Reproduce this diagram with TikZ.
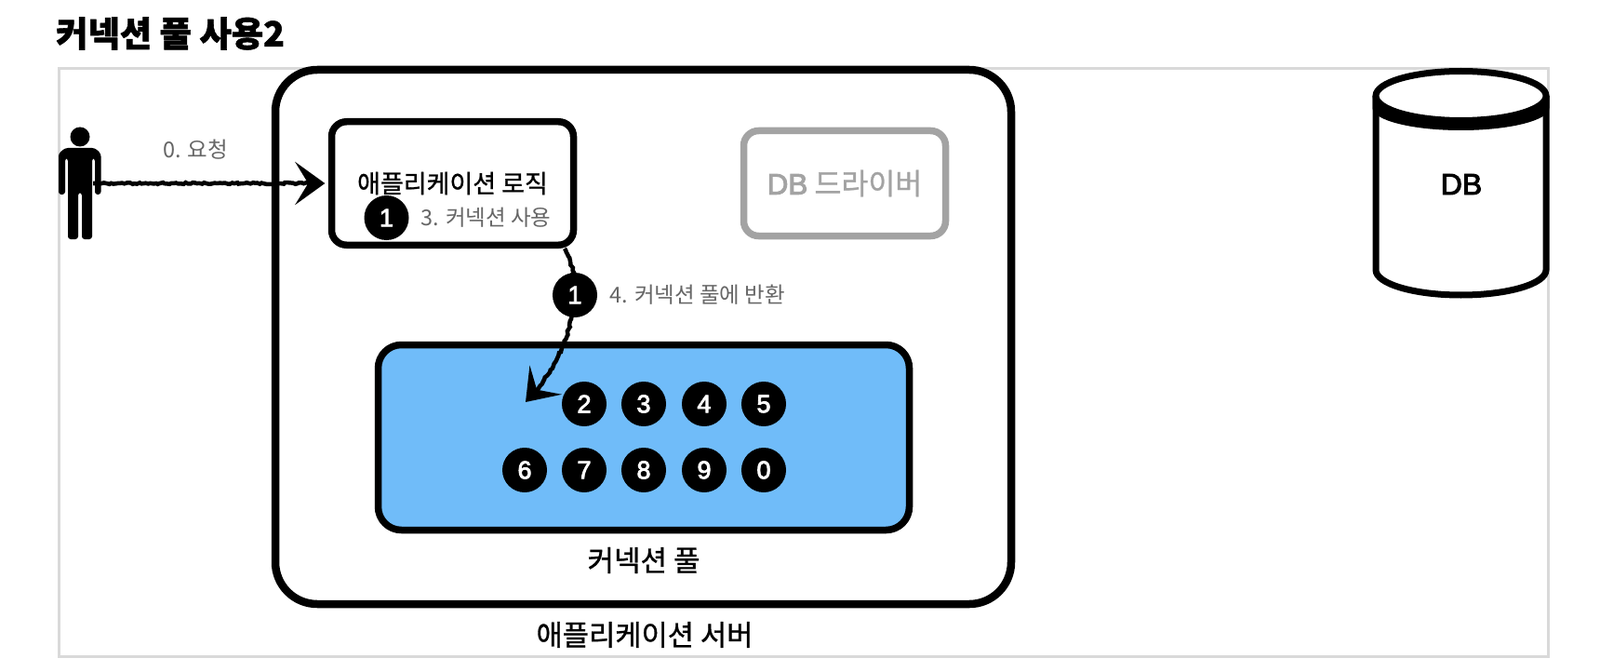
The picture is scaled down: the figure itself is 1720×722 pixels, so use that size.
\documentclass[tikz,border=0pt]{standalone}
\usepackage{fontspec}
\setmainfont{Liberation Sans}
\newfontfamily\cjk[FakeBold=1,BoldFeatures={FakeBold=1.5}]{Noto Sans CJK KR}
\newfontfamily\cjknote{Noto Sans CJK KR}
\newfontfamily\digits[FakeBold=3]{Liberation Sans}
\usetikzlibrary{arrows.meta,decorations.pathmorphing}
\definecolor{poolblue}{HTML}{70BCF9}
\definecolor{framegray}{HTML}{D9D9D9}
\definecolor{drivergray}{HTML}{A3A3A3}
\definecolor{notegray}{HTML}{666666}
\tikzset{
  box/.style={draw,rounded corners=#1,line width=7.5pt,inner sep=0pt},
  box/.default=16pt,
  conn/.style={circle,fill=black,text=white,minimum size=48pt,inner sep=0pt,font=\digits\fontsize{27pt}{32pt}\selectfont},
  label/.style={font=\cjk\fontsize{#1}{34pt}\selectfont},
  label/.default=27pt,
  note/.style={text=notegray,font=\cjknote\fontsize{23.5pt}{28pt}\selectfont},
  sketch/.style={line width=4.5pt,decorate,decoration={random steps,segment length=2.5pt,amplitude=0.9pt,pre length=2pt,post length=14pt},-{Stealth[length=32pt,width=46pt,inset=14pt]}}
}
\begin{document}
\begin{tikzpicture}[x=1pt,y=-1pt]
\useasboundingbox (0,0) rectangle (1720,722);

\node[anchor=west,inner sep=0pt,font=\cjk\bfseries\fontsize{37.3pt}{42pt}\selectfont] (title) at (60,36) {커넥션 풀 사용2};
\node[draw=framegray,line width=3pt,minimum width=1601pt,minimum height=632pt,inner sep=0pt] (frame) at (863.5,389.5) {};

% server
\node[box=45pt,line width=8.5pt,minimum width=791pt,minimum height=574pt] (server) at (691.5,362) {};
\node[label=30.7pt] (serverlabel) at (693,682) {애플리케이션 서버};

% logic and driver
\node[box,minimum width=260pt,minimum height=132.5pt,label=27pt] (logic) at (486.5,197) {애플리케이션 로직};
\node[box,draw=drivergray,text=drivergray,minimum width=217pt,minimum height=113pt,label=31.5pt] (driver) at (908,197) {{\digits DB} 드라이버};

% pool
\node[box=25pt,fill=poolblue,minimum width=571pt,minimum height=199pt] (pool) at (692,470) {};
\node[label=31pt] (poollabel) at (692,602) {커넥션 풀};

% user
\fill (86,147) circle (10.5pt);
\fill[rounded corners=3pt] (70,159) -- (102,159) -- (108.5,165) -- (108.5,209) -- (102,209) -- (102,170) -- (99,170)
  -- (99,257) -- (88,257) -- (88,207) -- (84,207) -- (84,257) -- (73,257) -- (73,170) -- (70,170) -- (70,209) -- (63,209) -- (63,165) -- cycle;
\coordinate (user) at (100,197);
\node[inner sep=0pt] (logicin) at (350,197) {};
\node[note] (request) at (210,161) {0. 요청};
\draw[sketch] (user) -- (logicin);

% return arrow
\coordinate (logicout) at (607,267);
\coordinate (poolin) at (565,432);
\draw[sketch] (logicout) .. controls (625,295) and (625,370) .. (poolin);

\node[conn] (inuse) at (415.5,234) {1};
\node[note,anchor=west] (usenote) at (449,234) {3. 커넥션 사용};
\node[conn] (back) at (618,317) {1};
\node[note,anchor=west] (backnote) at (652,317) {4. 커넥션 풀에 반환};

% idle connections
\node[conn] (c2) at (628,434) {2};
\node[conn] (c3) at (692,434) {3};
\node[conn] (c4) at (757,434) {4};
\node[conn] (c5) at (821,434) {5};
\node[conn] (c6) at (564,505) {6};
\node[conn] (c7) at (628,505) {7};
\node[conn] (c8) at (692,505) {8};
\node[conn] (c9) at (757,505) {9};
\node[conn] (c0) at (821,505) {0};

% db
\draw[line width=7pt,fill=white] (1479,103) -- (1479,290) arc[start angle=180,end angle=360,x radius=91.5pt,y radius=27pt] -- (1662,103);
\fill (1475.5,103) -- (1475.5,116) arc[start angle=180,end angle=360,x radius=95pt,y radius=24pt] -- (1665.5,103) -- cycle;
\draw[line width=7pt,fill=white] (1570.5,103) ellipse[x radius=91.5pt,y radius=26.5pt];
\node[font=\digits\fontsize{32pt}{36pt}\selectfont] (db) at (1571,198) {DB};
\end{tikzpicture}
\end{document}
